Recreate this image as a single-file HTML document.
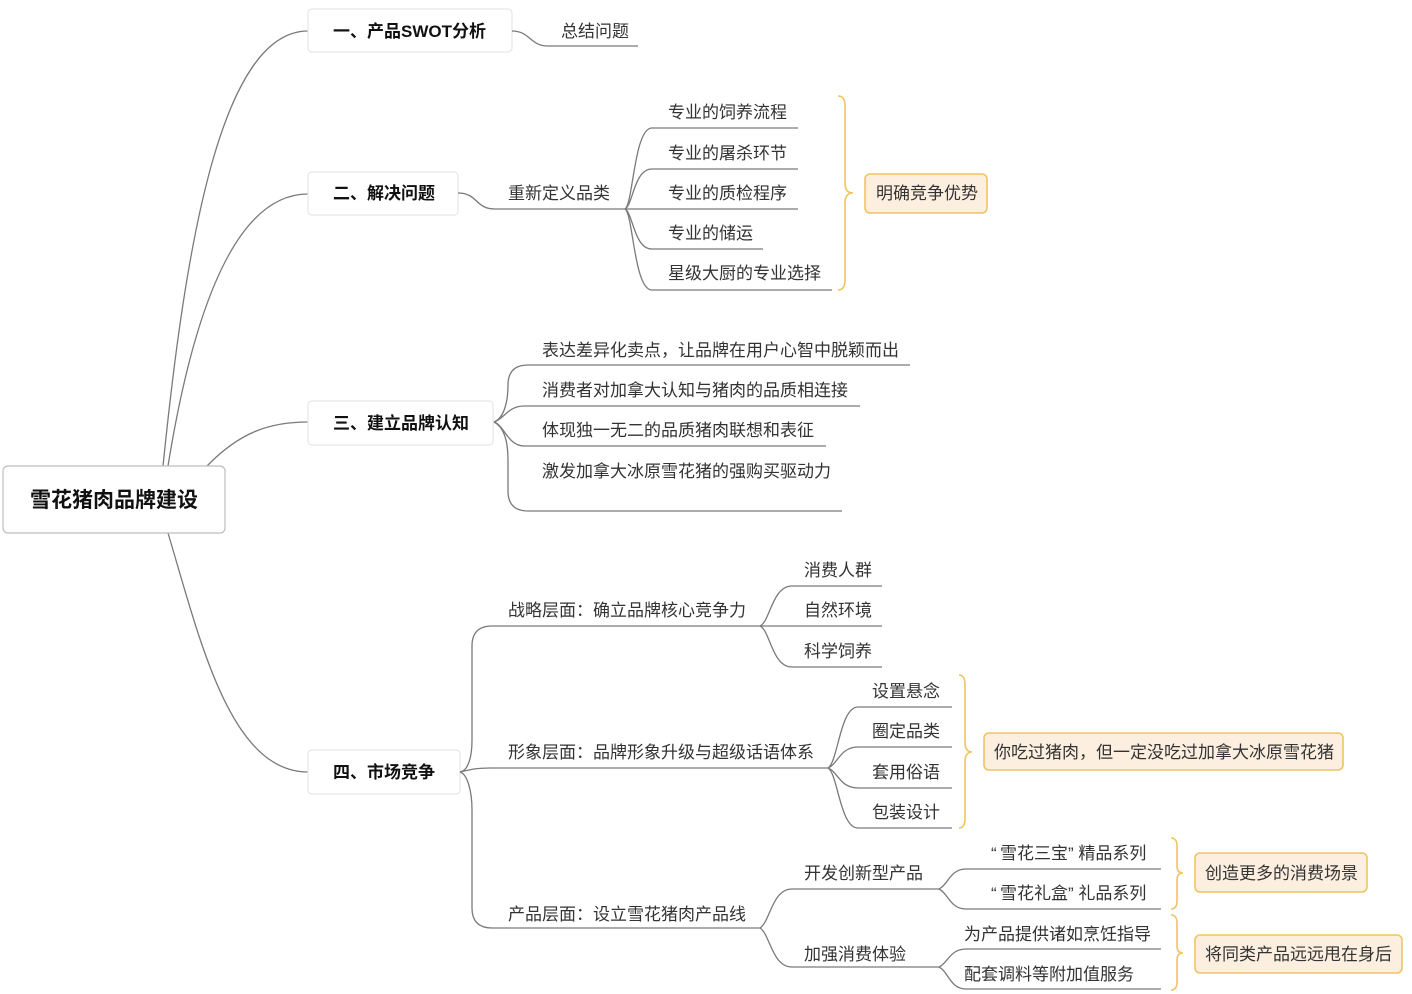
<!DOCTYPE html>
<html><head><meta charset="utf-8"><style>
html,body{margin:0;padding:0;background:#fff;}
svg{display:block;}
text{font-family:"Liberation Sans","Noto Sans CJK SC",sans-serif;fill:#333;font-size:17px;}
.b{font-weight:bold;fill:#111;}
.ln{fill:none;stroke:#7a7a7a;stroke-width:1.3;}
.br{fill:none;stroke:#f0c462;stroke-width:1.6;}
.ob{fill:#fcefe0;stroke:#f0c462;stroke-width:1.6;}
.l1{fill:#fff;stroke:#e6e6e6;stroke-width:1.2;}
</style></head><body>
<svg width="1412" height="994" viewBox="0 0 1412 994" xmlns="http://www.w3.org/2000/svg">
<!-- root connectors -->
<path class="ln" d="M163,466 C185,250 220,31 308,31"/>
<path class="ln" d="M168,466 C190,330 230,194 308,194"/>
<path class="ln" d="M207,466 C240,432 270,422 308,422"/>
<path class="ln" d="M168,533 C200,640 230,772 308,772"/>

<!-- root -->
<rect x="3" y="466" width="222" height="67" rx="5" fill="#fff" stroke="#bdbdbd" stroke-width="1.2"/>
<text x="114" y="507" class="b" text-anchor="middle" style="font-size:21px">雪花猪肉品牌建设</text>

<!-- level 1 boxes -->
<rect class="l1" x="308" y="9" width="204" height="43" rx="4"/>
<text x="333" y="37" class="b">一、产品SWOT分析</text>
<rect class="l1" x="308" y="172" width="150" height="43" rx="4"/>
<text x="333" y="199" class="b">二、解决问题</text>
<rect class="l1" x="308" y="401" width="185" height="44" rx="4"/>
<text x="333" y="429" class="b">三、建立品牌认知</text>
<rect class="l1" x="308" y="750" width="152" height="44" rx="4"/>
<text x="333" y="778" class="b">四、市场竞争</text>

<!-- 一 -->
<path class="ln" d="M512,31 C530,31 530,46 548,46 L638,46"/>
<text x="561" y="37">总结问题</text>

<!-- 二 -->
<path class="ln" d="M458,193 C478,193 475,209 495,209 L625,209"/>
<text x="508" y="199">重新定义品类</text>
<path class="ln" d="M625,209 C633,205 634,128 652,128 L798,128"/>
<path class="ln" d="M625,209 C633,205 634,169 652,169 L798,169"/>
<path class="ln" d="M625,209 L798,209"/>
<path class="ln" d="M625,209 C633,213 634,249 652,249 L763,249"/>
<path class="ln" d="M625,209 C633,213 634,290 652,290 L832,290"/>
<text x="668" y="118">专业的饲养流程</text>
<text x="668" y="159">专业的屠杀环节</text>
<text x="668" y="199">专业的质检程序</text>
<text x="668" y="239">专业的储运</text>
<text x="668" y="279">星级大厨的专业选择</text>
<path class="br" d="M838,96 Q845,96 845,106 L845,183 Q845,193 853,193 Q845,193 845,203 L845,280 Q845,290 838,290"/>
<rect class="ob" x="865" y="174" width="122" height="39" rx="5"/>
<text x="876" y="199">明确竞争优势</text>

<!-- 三 -->
<path class="ln" d="M494,422 C504,418 508,402 508,385 Q508,365 528,365 L910,365"/>
<path class="ln" d="M494,422 C504,419 508,406 524,406 L860,406"/>
<path class="ln" d="M494,422 C504,425 508,446 524,446 L826,446"/>
<path class="ln" d="M494,422 C504,427 508,440 508,460 L508,491 Q508,511 528,511 L842,511"/>
<text x="542" y="356">表达差异化卖点，让品牌在用户心智中脱颖而出</text>
<text x="542" y="396">消费者对加拿大认知与猪肉的品质相连接</text>
<text x="542" y="436">体现独一无二的品质猪肉联想和表征</text>
<text x="542" y="477">激发加拿大冰原雪花猪的强购买驱动力</text>

<!-- 四 -->
<path class="ln" d="M460,772 C467,771 472,760 472,740 L472,646 Q472,626 492,626 L760,626"/>
<path class="ln" d="M460,772 C470,770 474,768 490,768 L828,768"/>
<path class="ln" d="M460,772 C467,774 472,790 472,810 L472,908 Q472,928 492,928 L760,928"/>
<text x="508" y="616">战略层面：确立品牌核心竞争力</text>
<text x="508" y="758">形象层面：品牌形象升级与超级话语体系</text>
<text x="508" y="920">产品层面：设立雪花猪肉产品线</text>

<!-- 战略 children -->
<path class="ln" d="M760,626 C770,622 772,586 792,586 L882,586"/>
<path class="ln" d="M760,626 L882,626"/>
<path class="ln" d="M760,626 C770,630 772,667 792,667 L882,667"/>
<text x="804" y="576">消费人群</text>
<text x="804" y="616">自然环境</text>
<text x="804" y="657">科学饲养</text>

<!-- 形象 children -->
<path class="ln" d="M828,768 C838,762 840,707 858,707 L952,707"/>
<path class="ln" d="M828,768 C838,764 840,747 858,747 L952,747"/>
<path class="ln" d="M828,768 C838,772 840,788 858,788 L952,788"/>
<path class="ln" d="M828,768 C838,774 840,828 858,828 L952,828"/>
<text x="872" y="697">设置悬念</text>
<text x="872" y="737">圈定品类</text>
<text x="872" y="778">套用俗语</text>
<text x="872" y="818">包装设计</text>
<path class="br" d="M959,675 Q965,675 965,685 L965,742 Q965,752 972,752 Q965,752 965,762 L965,818 Q965,828 959,828"/>
<rect class="ob" x="984" y="733" width="359" height="37" rx="5"/>
<text x="994" y="758">你吃过猪肉，但一定没吃过加拿大冰原雪花猪</text>

<!-- 产品 children -->
<path class="ln" d="M760,928 C770,922 772,889 792,889 L939,889"/>
<path class="ln" d="M760,928 C770,934 772,967 792,967 L939,967"/>
<text x="804" y="879">开发创新型产品</text>
<text x="804" y="960">加强消费体验</text>

<path class="ln" d="M939,889 C948,885 950,869 966,869 L1161,869"/>
<path class="ln" d="M939,889 C948,893 950,909 966,909 L1161,909"/>
<text x="991" y="859">“</text><text x="1000" y="859">雪花三宝” 精品系列</text>
<text x="991" y="899">“</text><text x="1000" y="899">雪花礼盒” 礼品系列</text>

<path class="ln" d="M939,967 C948,963 950,949 966,949 L1161,949"/>
<path class="ln" d="M939,967 C948,971 950,989 966,989 L1161,989"/>
<text x="964" y="940">为产品提供诸如烹饪指导</text>
<text x="964" y="980">配套调料等附加值服务</text>

<path class="br" d="M1171,838 Q1177,838 1177,846 L1177,866 Q1177,873 1183,873 Q1177,873 1177,880 L1177,901 Q1177,909 1171,909"/>
<rect class="ob" x="1195" y="853" width="172" height="39" rx="5"/>
<text x="1205" y="879">创造更多的消费场景</text>

<path class="br" d="M1171,915 Q1177,915 1177,923 L1177,946 Q1177,953 1183,953 Q1177,953 1177,960 L1177,982 Q1177,990 1171,990"/>
<rect class="ob" x="1195" y="935" width="207" height="38" rx="5"/>
<text x="1205" y="960">将同类产品远远甩在身后</text>
</svg>
</body></html>
